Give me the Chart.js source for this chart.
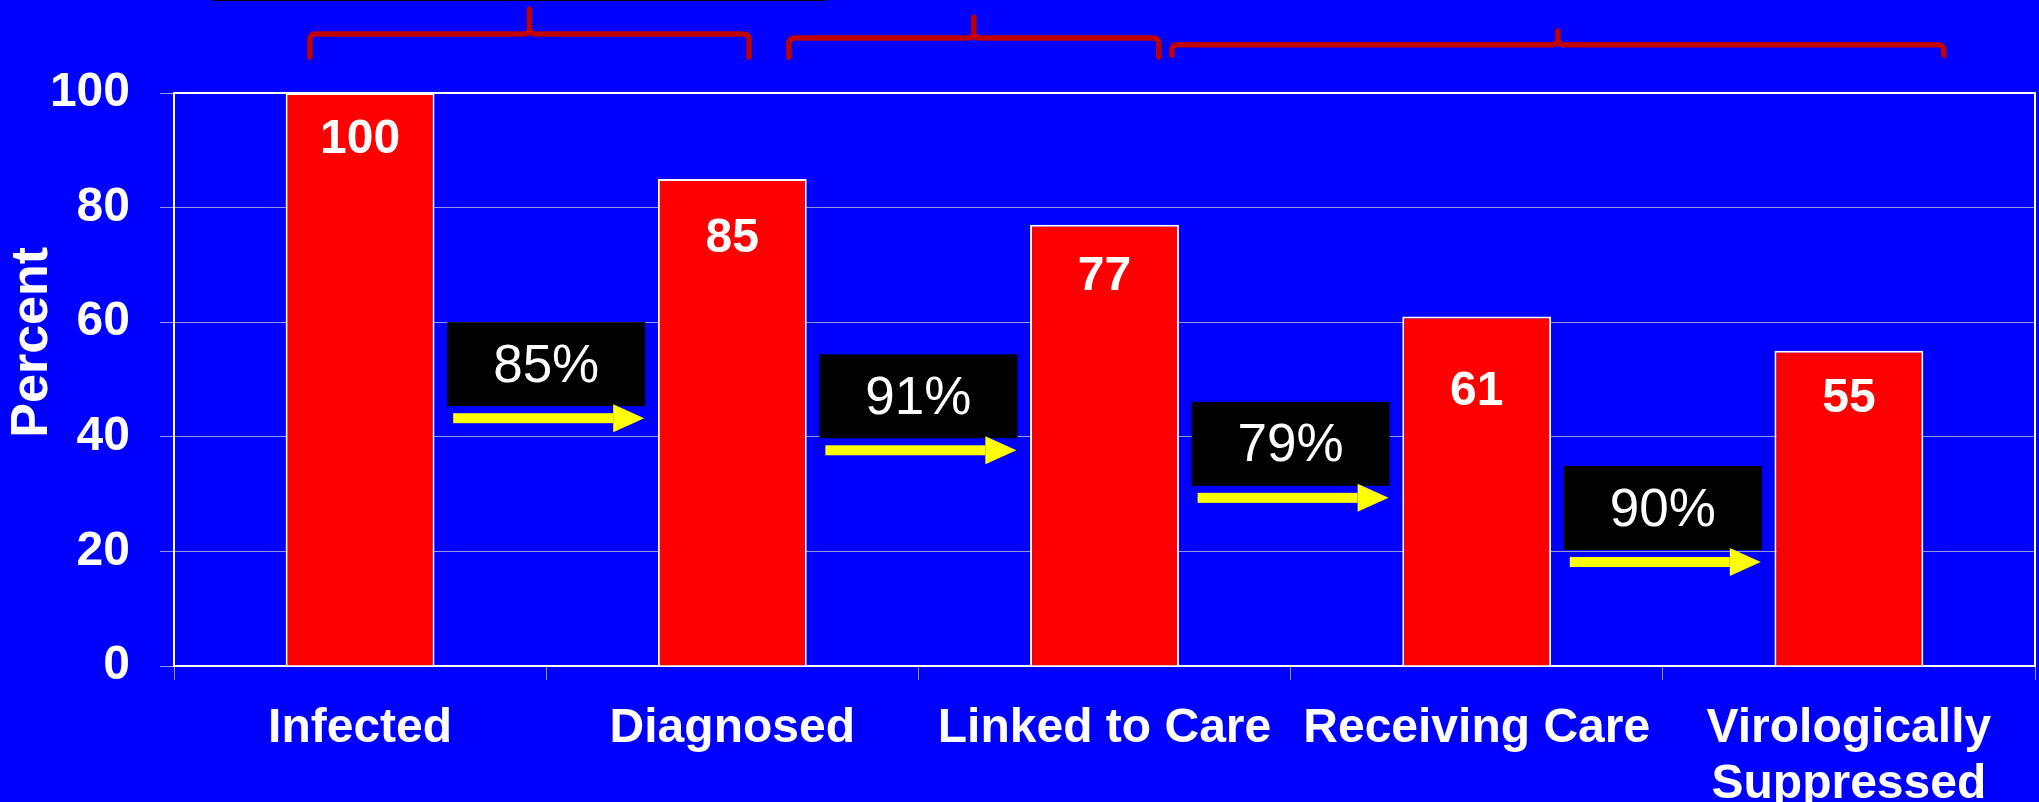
<html lang="en">
<head>
  <meta charset="UTF-8">
  <title>HIV Care Cascade</title>
  <script src="https://cdn.jsdelivr.net/npm/chart.js"></script>
  <style>
    body, html {
      margin: 0;
      padding: 0;
      background-color: #0000ff;
      overflow: hidden;
    }
    canvas { display: block; }
  </style>
</head>
<body>
  <canvas id="cascade" width="2039" height="802"></canvas>

  <script>
    // data
    const categories = ['Infected', 'Diagnosed', 'Linked to Care', 'Receiving Care', ['Virologically', 'Suppressed']];
    const percentValues = [100, 85, 77, 61, 55];
    const yTicks = [0, 20, 40, 60, 80, 100];
    const stepRates = ['85%', '91%', '79%', '90%'];

    // annotation placement (y in axis units, x in category units)
    const rateBoxTop = [60, 54.4, 46.1, 34.9];
    const labelDrop = [47, 60, 52, 75, 48]; // px below bar top
    const braces = [
      { from: -0.135, to: 1.045, line: 110.3, end: 106.3, peak: 114.6 },
      { from: 1.152, to: 2.146, line: 109.6, end: 106.3, peak: 113.2 },
      { from: 2.181, to: 4.255, line: 108.4, end: 106.6, peak: 110.8 }
    ];

    const FONT = '"Liberation Sans", Arial, sans-serif';
    const gridColor = 'rgba(200,200,200,0.75)';

    const overlay = {
      id: 'overlay',
      beforeDraw(chart) {
        const ctx = chart.ctx;
        ctx.save();
        ctx.fillStyle = '#0000ff';
        ctx.fillRect(0, 0, chart.width, chart.height);
        ctx.restore();
      },
      beforeDatasetsDraw(chart) {
        // white frame on top and right of plot
        const { ctx, chartArea: a } = chart;
        ctx.save();
        ctx.strokeStyle = '#ffffff';
        ctx.lineWidth = 2;
        ctx.beginPath();
        ctx.moveTo(a.left, a.top);
        ctx.lineTo(a.right, a.top);
        ctx.lineTo(a.right, a.bottom);
        ctx.stroke();
        ctx.restore();
      },
      afterDatasetsDraw(chart) {
        const { ctx, scales: { x, y } } = chart;
        const unit = x.getPixelForValue(1) - x.getPixelForValue(0);
        ctx.save();

        // value labels inside bars
        ctx.fillStyle = '#ffffff';
        ctx.font = 'bold 48px ' + FONT;
        ctx.textAlign = 'center';
        ctx.textBaseline = 'middle';
        chart.getDatasetMeta(0).data.forEach((bar, i) => {
          ctx.fillText(String(percentValues[i]), bar.x, bar.y + labelDrop[i]);
        });

        // step conversion boxes with arrows
        stepRates.forEach((txt, i) => {
          const cx = x.getPixelForValue(i + 0.5);
          const w = unit * 0.532;
          const left = cx - w / 2, right = cx + w / 2;
          const top = y.getPixelForValue(rateBoxTop[i]);
          const h = 84;
          ctx.fillStyle = '#000000';
          ctx.fillRect(left, top, w, h);
          ctx.fillStyle = '#ffffff';
          ctx.font = '53px ' + FONT;
          ctx.fillText(txt, cx, top + h / 2 + 3);

          const tipY = top + h + 12;
          const tipX = right - 1;
          ctx.fillStyle = '#ffff00';
          ctx.fillRect(left + 6, tipY - 5, tipX - 31 - (left + 6), 10);
          ctx.beginPath();
          ctx.moveTo(tipX - 31, tipY - 14);
          ctx.lineTo(tipX, tipY);
          ctx.lineTo(tipX - 31, tipY + 14);
          ctx.closePath();
          ctx.fill();
        });

        // Percent axis title
        ctx.fillStyle = '#ffffff';
        ctx.font = 'bold 52px ' + FONT;
        ctx.translate(33, y.getPixelForValue(56.5));
        ctx.rotate(-Math.PI / 2);
        ctx.fillText('Percent', 0, 0);
        ctx.restore();

        // brackets above the chart
        ctx.save();
        ctx.strokeStyle = '#c00000';
        ctx.lineWidth = 5.5;
        ctx.lineCap = 'round';
        ctx.lineJoin = 'round';
        braces.forEach(b => {
          const x0 = x.getPixelForValue(b.from);
          const x1 = x.getPixelForValue(b.to);
          const xm = (x0 + x1) / 2;
          const yl = y.getPixelForValue(b.line);
          const ye = y.getPixelForValue(b.end);
          const yp = y.getPixelForValue(b.peak);
          const r = 6;
          ctx.beginPath();
          ctx.moveTo(x0, ye);
          ctx.lineTo(x0, yl + r);
          ctx.quadraticCurveTo(x0, yl, x0 + r, yl);
          ctx.lineTo(xm - r, yl);
          ctx.quadraticCurveTo(xm, yl, xm, yl - r);
          ctx.lineTo(xm, yp);
          ctx.moveTo(xm, yl - r);
          ctx.quadraticCurveTo(xm, yl, xm + r, yl);
          ctx.lineTo(x1 - r, yl);
          ctx.quadraticCurveTo(x1, yl, x1, yl + r);
          ctx.lineTo(x1, ye);
          ctx.stroke();
        });

        // leftover rule at the very top of the slide
        ctx.strokeStyle = '#000000';
        ctx.lineWidth = 2;
        ctx.beginPath();
        ctx.moveTo(x.getPixelForValue(-0.393), 0);
        ctx.lineTo(x.getPixelForValue(1.247), 0);
        ctx.stroke();
        ctx.restore();
      }
    };

    const ctx = document.getElementById('cascade').getContext('2d');
    const cascadeChart = new Chart(ctx, {
      type: 'bar',
      data: {
        labels: categories,
        datasets: [{
          label: 'Percent',
          data: percentValues,
          backgroundColor: '#ff0000',
          borderColor: '#ffffff',
          borderWidth: 2,
          barPercentage: 0.4,
          categoryPercentage: 1.0
        }]
      },
      options: {
        responsive: false,
        animation: false,
        devicePixelRatio: 1,
        layout: { padding: { top: 93, right: 4, left: 0, bottom: 0 } },
        plugins: {
          legend: { display: false },
          tooltip: { enabled: false }
        },
        scales: {
          x: {
            grid: { offset: true, drawOnChartArea: false, color: gridColor, tickLength: 14 },
            border: { color: '#ffffff', width: 2 },
            ticks: {
              color: '#ffffff',
              font: { family: FONT, size: 48, weight: 'bold', lineHeight: 1.17 },
              padding: 21,
              maxRotation: 0,
              autoSkip: false
            },
            afterFit(s) { s.height = 136; }
          },
          y: {
            min: 0,
            max: 100,
            afterBuildTicks(s) { s.ticks = yTicks.map(v => ({ value: v })); },
            ticks: {
              color: '#ffffff',
              font: { family: FONT, size: 48, weight: 'bold' },
              padding: 30
            },
            grid: { color: gridColor, tickLength: 14 },
            border: { color: '#ffffff', width: 2 },
            afterFit(s) { s.width = 174; }
          }
        }
      },
      plugins: [overlay]
    });
  </script>
</body>
</html>
